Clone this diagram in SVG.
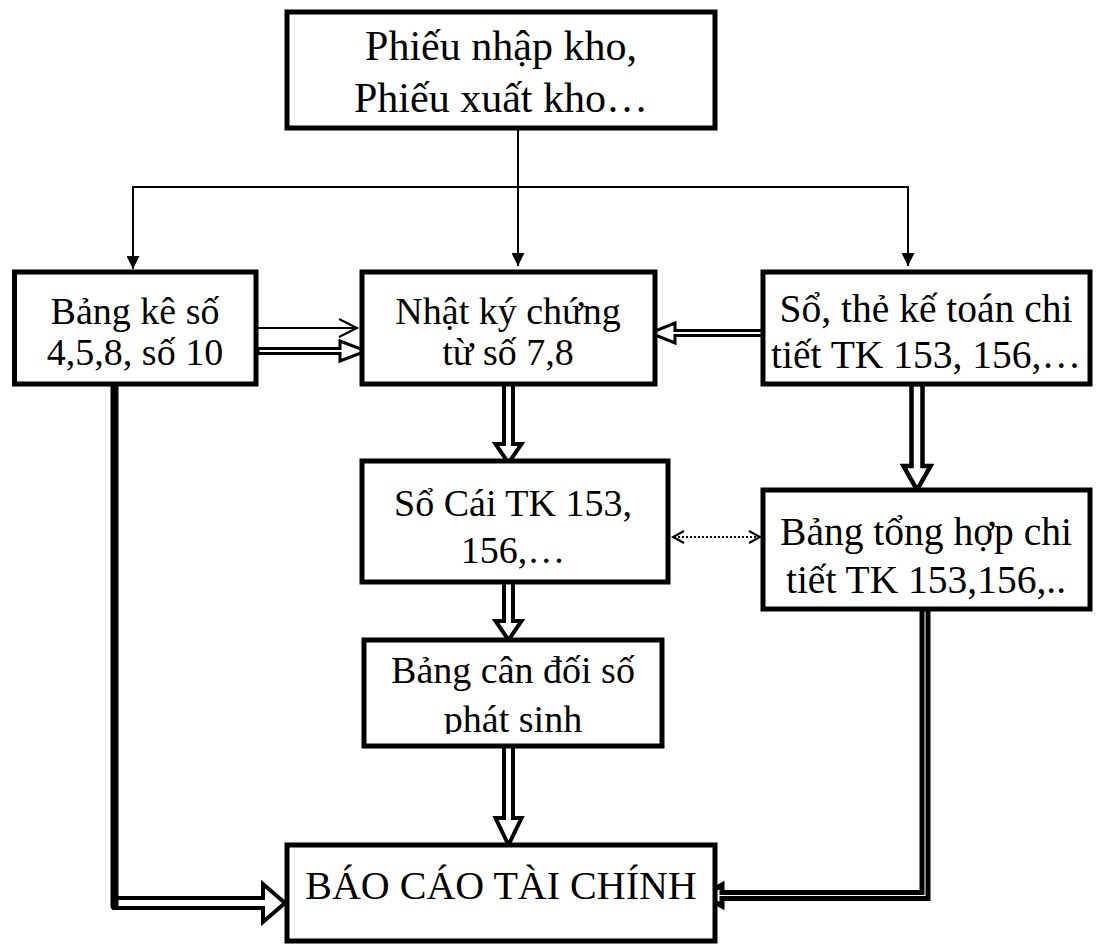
<svg xmlns="http://www.w3.org/2000/svg" width="1102" height="946" viewBox="0 0 1102 946">
  <defs>
    <style>
      .box { fill: #ffffff; stroke: #000000; stroke-width: 5; }
      .lbl { font-family: "Liberation Serif", "Times New Roman", serif; font-size: 38px; fill: #000000; text-anchor: middle; }
      .big { font-size: 42px; }
      .mid { font-size: 39.5px; }
      .thin { fill: none; stroke: #000000; stroke-width: 2; }
      .dbl { fill: #ffffff; stroke: #000000; stroke-linejoin: miter; }
      .dot { fill: none; stroke: #000000; stroke-width: 2; stroke-dasharray: 2 2; }
    </style>
    <marker id="tri" viewBox="0 0 10 10" refX="10" refY="5" markerWidth="6.5" markerHeight="6.5" orient="auto" markerUnits="strokeWidth">
      <path d="M0,0 L10,5 L0,10 Z" fill="#000000"/>
    </marker>
    <clipPath id="clipCanDoi">
      <rect x="364" y="640" width="298" height="94"/>
    </clipPath>
  </defs>

  <rect width="1102" height="946" fill="#ffffff"/>

  <!-- connectors -->
  <g id="connectors">
    <!-- source documents fan out to the three first-level books -->
    <path class="thin" d="M518,128 L518,266" marker-end="url(#tri)"/>
    <path class="thin" d="M133,187 L908,187"/>
    <path class="thin" d="M133,186 L133,269" marker-end="url(#tri)"/>
    <path class="thin" d="M908,186 L908,266" marker-end="url(#tri)"/>

    <!-- Bang ke -> Nhat ky (single open arrow and double arrow) -->
    <path class="thin" d="M258,328 L357,328"/>
    <path class="thin" d="M339,319 L357,328 L339,337"/>
    <path class="dbl" stroke-width="3" d="M258,348.5 L340,348.5 L340,341 L366,351 L340,361 L340,353.5 L258,353.5 Z"/>

    <!-- So the chi tiet -> Nhat ky -->
    <path class="dbl" stroke-width="3" d="M763,330.5 L675,330.5 L675,323 L650,333 L675,343 L675,335.5 L763,335.5 Z"/>

    <!-- Nhat ky -> So Cai -->
    <path class="dbl" stroke-width="4" d="M504,384 L504,444 L495.5,444 L508.5,463 L521.5,444 L513,444 L513,384 Z"/>

    <!-- So the chi tiet -> Bang tong hop -->
    <path class="dbl" stroke-width="4.5" d="M911.5,384 L911.5,466 L903.5,466 L917,490 L930.5,466 L922.5,466 L922.5,384 Z"/>

    <!-- So Cai <-> Bang tong hop (reconciliation) -->
    <path class="dot" d="M674,537 L759,537"/>
    <path class="thin" d="M684,531 L673,537 L684,543"/>
    <path class="thin" d="M749,531 L760,537 L749,543"/>

    <!-- So Cai -> Bang can doi -->
    <path class="dbl" stroke-width="4" d="M504,582 L504,621 L495.5,621 L508.5,640 L521.5,621 L513,621 L513,582 Z"/>

    <!-- Bang can doi -> Bao cao -->
    <path class="dbl" stroke-width="4" d="M504,746 L504,818 L495.5,818 L508.5,845 L521.5,818 L513,818 L513,746 Z"/>

    <!-- Bang ke -> Bao cao -->
    <path class="dbl" stroke-width="4" d="M114.5,898 L263,898 L263,884 L285,903 L263,922 L263,908 L114.5,908 Z"/>
    <path d="M114.5,376 L114.5,906" fill="none" stroke="#000000" stroke-width="8" stroke-linecap="round"/>

    <!-- Bang tong hop -> Bao cao -->
    <path class="dbl" stroke-width="5" stroke-linejoin="round" d="M922,599 L928,599 L928,898.5 L722,898.5 L722,906 L703,895.5 L722,885 L722,892.5 L922,892.5 Z"/>
  </g>

  <!-- nodes -->
  <g id="chung-tu">
    <rect class="box" x="287" y="12" width="428" height="116"/>
    <text class="lbl big" x="501" y="60">Phiếu nhập kho,</text>
    <text class="lbl big" x="501" y="112">Phiếu xuất kho…</text>
  </g>

  <g id="bang-ke">
    <rect class="box" x="14.5" y="272" width="241.5" height="112"/>
    <text class="lbl" x="135" y="324">Bảng kê số</text>
    <text class="lbl" x="135" y="365">4,5,8, số 10</text>
  </g>

  <g id="nhat-ky">
    <rect class="box" x="362" y="272" width="293" height="112"/>
    <text class="lbl" x="508" y="324">Nhật ký chứng</text>
    <text class="lbl" x="508" y="365">từ số 7,8</text>
  </g>

  <g id="so-chi-tiet">
    <rect class="box" x="763" y="272" width="327" height="112"/>
    <text class="lbl mid" x="926" y="322">Sổ, thẻ kế toán chi</text>
    <text class="lbl mid" x="926" y="368">tiết TK 153, 156,…</text>
  </g>

  <g id="so-cai">
    <rect class="box" x="362" y="461" width="306" height="121"/>
    <text class="lbl" x="513" y="516">Sổ Cái TK 153,</text>
    <text class="lbl" x="513" y="563">156,…</text>
  </g>

  <g id="tong-hop-chi-tiet">
    <rect class="box" x="763" y="490" width="327" height="119"/>
    <text class="lbl mid" x="926" y="545">Bảng tổng hợp chi</text>
    <text class="lbl mid" x="926" y="593">tiết TK 153,156,..</text>
  </g>

  <g id="can-doi">
    <rect class="box" x="364" y="640" width="298" height="106"/>
    <g clip-path="url(#clipCanDoi)">
      <text class="lbl" x="513" y="683">Bảng cân đối số</text>
      <text class="lbl" x="513" y="732">phát sinh</text>
    </g>
  </g>

  <g id="bao-cao">
    <rect class="box" x="287" y="845" width="428" height="96"/>
    <text class="lbl" x="501" y="899" style="font-size:40px">BÁO CÁO TÀI CHÍNH</text>
  </g>
</svg>
